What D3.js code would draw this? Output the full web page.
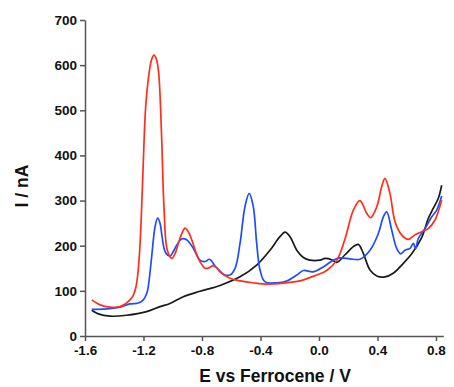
<!DOCTYPE html>
<html><head><meta charset="utf-8">
<script src="https://cdn.jsdelivr.net/npm/d3@7"></script>
<style>body{margin:0;background:#fff}svg{display:block}</style>
</head><body>
<svg id="c" width="454" height="387"></svg>
<script>
const xTicks = [-1.6, -1.2, -0.8, -0.4, 0.0, 0.4, 0.8];
const xTickLabels = ["-1.6", "-1.2", "-0.8", "-0.4", "0.0", "0.4", "0.8"];
const yTicks = [0, 100, 200, 300, 400, 500, 600, 700];
const yTickLabels = ["0", "100", "200", "300", "400", "500", "600", "700"];

const redE = [-1.554,-1.497,-1.429,-1.361,-1.292,-1.270,-1.252,-1.238,-1.226,-1.215,-1.203,-1.185,-1.162,-1.145,-1.128,-1.111,-1.096,-1.076,-1.060,-1.037,-1.007,-0.985,-0.962,-0.939,-0.916,-0.896,-0.870,-0.841,-0.814,-0.779,-0.752,-0.723,-0.697,-0.677,-0.609,-0.540,-0.451,-0.356,-0.246,-0.130,-0.016,0.053,0.122,0.176,0.235,0.280,0.326,0.353,0.395,0.429,0.451,0.485,0.520,0.565,0.611,0.656,0.702,0.747,0.793,0.839];
const redI = [80,69,64,65,80,90,108,140,190,265,370,508,582,612,622,612,582,440,286,190,172,182,205,226,239,232,213,185,165,150,151,156,150,142,128,122,118,115,117,122,135,145,168,213,279,300,272,262,286,331,349,316,253,224,214,224,231,238,257,301];

const blueE = [-1.554,-1.452,-1.361,-1.292,-1.236,-1.201,-1.178,-1.167,-1.144,-1.121,-1.103,-1.087,-1.076,-1.060,-1.046,-1.019,-0.998,-0.973,-0.939,-0.905,-0.859,-0.814,-0.779,-0.750,-0.732,-0.711,-0.677,-0.654,-0.609,-0.574,-0.540,-0.506,-0.477,-0.449,-0.426,-0.403,-0.369,-0.289,-0.221,-0.152,-0.107,-0.039,0.029,0.098,0.144,0.212,0.280,0.349,0.406,0.440,0.463,0.497,0.531,0.559,0.588,0.622,0.645,0.661,0.679,0.725,0.771,0.805,0.839];
const blueI = [59,60,64,71,73,80,94,110,176,242,261,250,227,195,183,177,186,201,215,213,194,168,165,170,165,155,144,137,135,150,205,287,316,286,205,146,120,118,122,135,145,142,153,168,173,171,170,190,227,264,275,235,194,182,190,194,205,194,216,238,264,279,310];

const blackE = [-1.554,-1.509,-1.429,-1.315,-1.178,-1.087,-1.019,-0.928,-0.814,-0.677,-0.540,-0.426,-0.335,-0.267,-0.232,-0.198,-0.152,-0.107,-0.062,0.007,0.041,0.087,0.121,0.178,0.235,0.269,0.303,0.349,0.395,0.451,0.508,0.565,0.634,0.702,0.747,0.782,0.816,0.839];
const blackI = [57,49,44,46,54,65,72,87,99,112,131,157,190,220,230,220,190,174,168,168,172,169,163,180,198,203,183,146,133,131,139,157,182,218,260,283,305,334];

const series = [
  {E: blackE, I: blackI, color: "#1a1a1a"},
  {E: blueE, I: blueI, color: "#1f4cff"},
  {E: redE, I: redI, color: "#ff2e1a"}
];

const svg = d3.select("#c");
const x = d3.scaleLinear().domain([-1.6, 0.85]).range([85, 443.3]);
const y = d3.scaleLinear().domain([0, 700]).range([336, 20]);

const line = d3.line().x(d => x(d[0])).y(d => y(d[1])).curve(d3.curveCatmullRom.alpha(0.5));

const plot = svg.append("g");
series.forEach(s => {
  const pts = s.E.map((e, i) => [e, s.I[i]]);
  plot.append("path").attr("d", line(pts)).attr("fill", "none")
    .attr("stroke", s.color).attr("stroke-width", 1.7).attr("stroke-linejoin", "round");
});

const xAxis = d3.axisBottom(x).tickValues(xTicks).tickSize(5).tickSizeOuter(0)
  .tickFormat((d, i) => xTickLabels[i]);
const yAxis = d3.axisLeft(y).tickValues(yTicks).tickSize(5).tickSizeOuter(0)
  .tickFormat((d, i) => yTickLabels[i]);

const gx = svg.append("g").attr("transform", "translate(0,336)").call(xAxis);
const gy = svg.append("g").attr("transform", "translate(85,0)").call(yAxis);
[gx, gy].forEach(g => {
  g.select(".domain").attr("stroke", "#555").attr("stroke-width", 1.5);
  g.selectAll(".tick line").attr("stroke", "#555").attr("stroke-width", 1.5);
  g.selectAll(".tick text").attr("fill", "#111")
    .style("font-family", "'Liberation Sans', Arial, sans-serif")
    .style("font-size", "13.5px").style("font-weight", "bold");
});
gx.selectAll(".tick text").attr("dy", "0.71em").attr("y", 9);
gy.selectAll(".tick text").attr("x", -8);

svg.append("text").attr("x", 275).attr("y", 382).attr("text-anchor", "middle")
  .style("font-family", "'Liberation Sans', Arial, sans-serif")
  .style("font-size", "17.5px").style("font-weight", "bold").attr("fill", "#111")
  .text("E vs Ferrocene / V");

svg.append("text").attr("transform", "translate(28,186) rotate(-90)").attr("text-anchor", "middle")
  .style("font-family", "'Liberation Sans', Arial, sans-serif")
  .style("font-size", "17.5px").style("font-weight", "bold").attr("fill", "#111")
  .text("I / nA");
</script>
</body></html>
